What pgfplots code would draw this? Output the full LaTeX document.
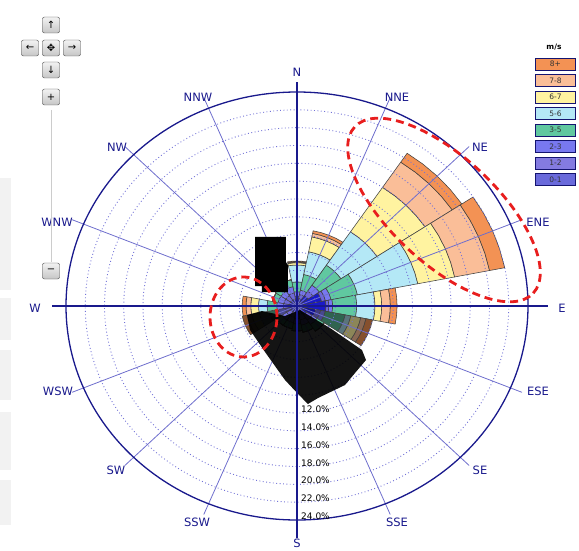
\documentclass[border=0pt]{standalone}
\usepackage{fontspec}
\setmainfont{DejaVu Sans}
\usepackage{pgfplots}
\pgfplotsset{compat=1.18}

\definecolor{c8}{RGB}{243,146,84}
\definecolor{c78}{RGB}{250,190,152}
\definecolor{c67}{RGB}{255,243,160}
\definecolor{c56}{RGB}{180,232,246}
\definecolor{c35}{RGB}{96,200,160}
\definecolor{c23}{RGB}{120,120,240}
\definecolor{c12}{RGB}{110,100,220}
\definecolor{c01}{RGB}{25,25,200}
\colorlet{c8d}{c8!55!black}
\colorlet{c78d}{c78!55!black}
\colorlet{c67d}{c67!55!black}
\colorlet{c56d}{c56!50!black}
\colorlet{c35d}{c35!50!black}
\colorlet{c23d}{c23!60!black}
\colorlet{c12d}{c12!60!black}
\colorlet{c01d}{c01!70!black}
\definecolor{navy}{RGB}{25,25,140}
\definecolor{spokec}{RGB}{110,110,205}
\definecolor{ringc}{RGB}{115,115,215}
\definecolor{redd}{RGB}{232,30,30}

\def\cs{}
% one band of a wind-rose bar: #1 compass direction, #2 inner radius, #3 outer radius, #4 colour
\newcommand{\band}[4]{%
  \pgfmathsetmacro\ta{90-#1+11.25}%
  \pgfmathsetmacro\tab{90-#1+5.625}%
  \pgfmathsetmacro\tb{90-#1}%
  \pgfmathsetmacro\tbc{90-#1-5.625}%
  \pgfmathsetmacro\tc{90-#1-11.25}%
  \edef\tmp{\noexpand\addplot[data cs=polar, fill=#4\cs, draw=black!75, line width=0.55pt, forget plot]
    coordinates {(\ta,#2) (\tab,#2) (\tb,#2) (\tbc,#2) (\tc,#2) (\tc,#3) (\tbc,#3) (\tb,#3) (\tab,#3) (\ta,#3)} -- cycle;}%
  \tmp}
% cumulative outer radii (%) of classes 0-1,1-2,2-3,3-5,5-6,6-7,7-8,8+
\newcommand{\dirbars}[9]{%
  \band{#1}{0}{#2}{c01}\band{#1}{#2}{#3}{c12}\band{#1}{#3}{#4}{c23}\band{#1}{#4}{#5}{c35}%
  \band{#1}{#5}{#6}{c56}\band{#1}{#6}{#7}{c67}\band{#1}{#7}{#8}{c78}\band{#1}{#8}{#9}{c8}}

\tikzset{btn/.style={draw=gray!55!black, rounded corners=2pt, top color=gray!10, bottom color=gray!45,
  minimum width=17pt, minimum height=16pt, inner sep=0pt, font=\fontsize{10}{10}\selectfont}}

\begin{document}
\begin{tikzpicture}
\path[use as bounding box] (0,0) rectangle (579pt,-551pt);
% left grey panel strips
\fill[gray!10] (0,-178pt) rectangle (11pt,-290pt);
\fill[gray!10] (0,-298pt) rectangle (11pt,-340pt);
\fill[gray!10] (0,-350pt) rectangle (11pt,-400pt);
\fill[gray!10] (0,-412pt) rectangle (11pt,-470pt);
\fill[gray!10] (0,-480pt) rectangle (11pt,-525pt);

\begin{axis}[at={(297pt,-306pt)}, anchor=origin, x=9.625pt, y=8.917pt,
  xmin=-27, xmax=27, ymin=-27, ymax=27, hide axis, clip=false]
% wind-rose bars
\dirbars{0}{0.7}{1.1}{1.6}{2.7}{4.6}{4.85}{4.95}{5.05}
\dirbars{22.5}{0.9}{1.3}{1.8}{3.6}{6.2}{7.9}{8.3}{8.6}
\dirbars{45}{1.4}{2.0}{2.8}{5.5}{10.0}{16.0}{19.4}{20.6}
\dirbars{67.5}{2.6}{3.0}{3.6}{6.4}{12.8}{16.7}{20.4}{22.0}
\dirbars{90}{3.0}{3.3}{3.7}{6.2}{8.1}{8.8}{9.7}{10.4}
\def\cs{d}
\dirbars{112.5}{2.0}{2.5}{3.0}{5.1}{5.7}{6.75}{7.3}{8.0}
\dirbars{247.5}{0.8}{1.3}{2.0}{3.0}{4.0}{4.8}{5.3}{5.8}
\def\cs{}
\dirbars{135}{1.2}{1.9}{2.5}{3.4}{3.4}{3.4}{3.4}{3.4}
\dirbars{157.5}{1.0}{1.6}{2.2}{3.0}{3.0}{3.0}{3.0}{3.0}
\dirbars{180}{0.9}{1.4}{2.0}{2.8}{2.8}{2.8}{2.8}{2.8}
\dirbars{202.5}{0.8}{1.3}{1.9}{2.6}{2.6}{2.6}{2.6}{2.6}
\dirbars{225}{0.8}{1.3}{1.9}{2.6}{2.6}{2.6}{2.6}{2.6}
\dirbars{270}{0.8}{1.4}{2.1}{3.1}{4.0}{4.8}{5.3}{5.7}
\dirbars{292.5}{0.8}{1.4}{2.0}{2.6}{2.6}{2.6}{2.6}{2.6}
\dirbars{315}{0.8}{1.4}{2.0}{2.7}{2.7}{2.7}{2.7}{2.7}
\dirbars{337.5}{0.8}{1.5}{2.2}{3.0}{3.0}{3.0}{3.0}{3.0}
% grid rings and spokes
\pgfplotsinvokeforeach{2,4,6,8,10,12,14,16,18,20,22}{%
  \draw[ringc, line width=0.9pt, dash pattern=on 0.9pt off 2.5pt] (axis cs:0,0) ellipse [x radius=#1, y radius=#1];}
\pgfplotsinvokeforeach{22.5,45,67.5,112.5,135,157.5,202.5,225,247.5,292.5,315,337.5}{%
  \addplot[spokec, line width=0.8pt, data cs=polar, forget plot] coordinates {(0,0) (90-#1,25.3)};}
\draw[navy, line width=1.3pt] (axis cs:0,0) ellipse [x radius=24, y radius=24];
% black overlays
\addplot[fill=black, draw=none, fill opacity=0.92, forget plot] coordinates {
 (-5.19,-1.01) (-3.64,-0.56) (-1.25,-1.12) (0.31,-0.45) (3.43,-2.47) (6.75,-4.93) (7.17,-6.06)
 (6.03,-7.51) (4.99,-8.86) (2.18,-10.32) (1.14,-10.99) (0.31,-10.09) (-1.25,-8.30) (-3.32,-5.16) (-4.88,-2.69)} -- cycle;
\addplot[fill=black, draw=none, forget plot] coordinates {
 (-4.36,7.74) (-1.15,7.74) (-1.15,4.93) (-0.95,4.60) (-0.95,1.57) (-3.64,1.57) (-3.64,2.24) (-4.36,2.24)} -- cycle;
% main axes lines
\addplot[navy, line width=1.7pt, forget plot] coordinates {(0,25.1) (0,-26.0)};
\addplot[navy, line width=1.7pt, forget plot] coordinates {(-25.45,0) (26.1,0)};
\end{axis}

% direction labels
\begin{scope}[every node/.style={text=navy, font=\fontsize{11.5}{13}\selectfont, inner sep=0pt}]
\node at (297pt,-72pt) {N};
\node at (397pt,-97pt) {NNE};
\node at (480pt,-147pt) {NE};
\node at (538pt,-222pt) {ENE};
\node at (562pt,-308pt) {E};
\node at (538pt,-391pt) {ESE};
\node at (480pt,-470pt) {SE};
\node at (397pt,-522pt) {SSE};
\node at (297pt,-543pt) {S};
\node at (197pt,-522pt) {SSW};
\node at (116pt,-470pt) {SW};
\node at (58pt,-391pt) {WSW};
\node at (35pt,-308pt) {W};
\node at (57pt,-222pt) {WNW};
\node at (117pt,-147pt) {NW};
\node at (198pt,-97pt) {NNW};
\end{scope}

% radial labels
\begin{scope}[every node/.style={anchor=base west, inner sep=0pt, font=\fontsize{9}{10}\selectfont}]
\node at (301pt,-412.5pt) {12.0\%};
\node at (301pt,-430.3pt) {14.0\%};
\node at (301pt,-448.2pt) {16.0\%};
\node at (301pt,-466.0pt) {18.0\%};
\node at (301pt,-483.8pt) {20.0\%};
\node at (301pt,-501.7pt) {22.0\%};
\node at (301pt,-519.5pt) {24.0\%};
\end{scope}

% red annotation ellipses
\draw[redd, line width=2.8pt, dash pattern=on 8pt off 5pt, shift={(444pt,-210pt)}, rotate=-43]
  (0,0) ellipse [x radius=122pt, y radius=53pt];
\draw[redd, line width=2.8pt, dash pattern=on 8pt off 5pt] (243.5pt,-317pt) ellipse [x radius=33.5pt, y radius=40pt];

% legend
\node[font=\bfseries\fontsize{7.5}{8}\selectfont] at (554pt,-47pt) {m/s};
\begin{scope}[every node/.style={draw=navy!80!black, line width=0.6pt, minimum width=40pt, minimum height=12pt, inner sep=0pt, font=\fontsize{7.5}{8}\selectfont, text=black!80}]
\node[fill=c8]  at (555.5pt,-64pt) {8+};
\node[fill=c78] at (555.5pt,-80.5pt) {7-8};
\node[fill=c67] at (555.5pt,-97pt) {6-7};
\node[fill=c56] at (555.5pt,-113.5pt) {5-6};
\node[fill=c35] at (555.5pt,-130pt) {3-5};
\node[fill=c23] at (555.5pt,-146.5pt) {2-3};
\node[fill=c12!85!white] at (555.5pt,-163pt) {1-2};
\node[fill=c01!65!white] at (555.5pt,-179.5pt) {0-1};
\end{scope}

% navigation controls
\draw[gray!40, line width=1pt] (51pt,-110pt) -- (51pt,-262pt);
\node[btn] at (51pt,-25pt) {↑};
\node[btn] at (30pt,-48pt) {←};
\node[btn] at (51pt,-48pt) {✥};
\node[btn] at (72pt,-48pt) {→};
\node[btn] at (51pt,-70pt) {↓};
\node[btn] at (51pt,-97pt) {+};
\node[btn] at (51pt,-271pt) {−};
\end{tikzpicture}
\end{document}
